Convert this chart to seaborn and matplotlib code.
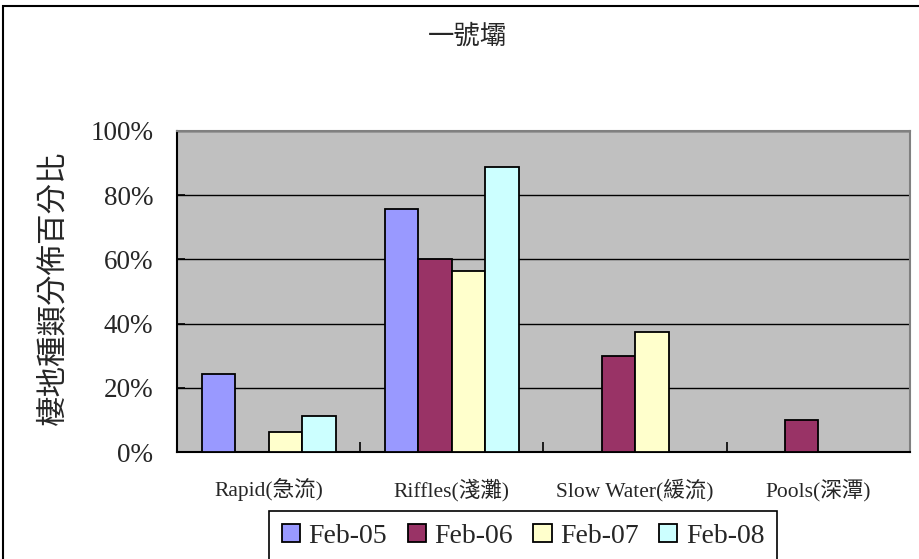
import matplotlib
matplotlib.use("Agg")
import matplotlib.pyplot as plt
import seaborn as sns
import pandas as pd
from matplotlib.patches import Rectangle, Patch
from matplotlib.ticker import FixedLocator, PercentFormatter

# Habitat categories and survey dates
categories = ["Rapid(急流)", "Riffles(淺灘)", "Slow Water(緩流)", "Pools(深潭)"]
dates = ["Feb-05", "Feb-06", "Feb-07", "Feb-08"]

# Percentage of each habitat type per survey
feb05 = [24.3, 75.7, 0.0, 0.0]
feb06 = [0.0, 60.0, 30.0, 10.0]
feb07 = [6.2, 56.3, 37.5, 0.0]
feb08 = [11.1, 88.9, 0.0, 0.0]

colors = ["#9999FF", "#993366", "#FFFFCC", "#CCFFFF"]
yticks = [0, 20, 40, 60, 80, 100]

series = [feb05, feb06, feb07, feb08]
df = pd.DataFrame(
    [(c, d, v) for d, vals in zip(dates, series) for c, v in zip(categories, vals)],
    columns=["habitat", "date", "pct"],
)

sns.set_theme(style="white")
plt.rcParams["font.family"] = ["Liberation Serif", "Noto Sans CJK TC"]

W, H = 920, 559
fig = plt.figure(figsize=(W / 100, H / 100), dpi=100)
ax = fig.add_axes([177 / W, 1 - 452 / H, (910 - 177) / W, (452 - 131) / H])
ax.set_facecolor("#C0C0C0")

sns.barplot(
    data=df, x="habitat", y="pct", hue="date", order=categories, hue_order=dates,
    palette=colors, width=0.73, gap=0, edgecolor="black", linewidth=1.3,
    saturation=1, ax=ax, legend=False, zorder=3,
)

# hide empty bars
for p in ax.patches:
    if p.get_height() == 0:
        p.set_visible(False)

ax.set_xlim(-0.5, len(categories) - 0.5)
ax.set_ylim(0, 100)
ax.yaxis.set_major_locator(FixedLocator(yticks))
ax.yaxis.set_major_formatter(PercentFormatter(decimals=0))
ax.grid(axis="y", color="black", linewidth=1.0, zorder=1)
ax.set_axisbelow(True)

ax.tick_params(axis="y", direction="in", length=6, width=1.2, color="black",
               labelsize=19.5, pad=17, left=True)
ax.tick_params(axis="x", which="major", length=0, labelsize=15.5, pad=19)
ax.xaxis.set_minor_locator(FixedLocator([i + 0.5 for i in range(len(categories) - 1)]))
ax.tick_params(axis="x", which="minor", direction="in", length=7, width=1.2,
               color="black", bottom=True)

for side in ["left", "bottom"]:
    ax.spines[side].set_color("black")
    ax.spines[side].set_linewidth(1.5)
for side in ["top", "right"]:
    ax.spines[side].set_color("#808080")
    ax.spines[side].set_linewidth(1.5)

ax.set_xlabel("")
ax.set_ylabel("")
fig.text(53 / W, 1 - 288 / H, "棲地種類分佈百分比", rotation=90, ha="center",
         va="center", fontsize=22, family=["Noto Sans CJK TC"])
fig.text(467 / W, 1 - 36 / H, "一號壩", ha="center", va="center", fontsize=19,
         family=["Noto Sans CJK TC"])

handles = [Patch(facecolor=c, edgecolor="black", linewidth=1.3) for c in colors]
leg = fig.legend(
    handles, dates, loc="upper center", bbox_to_anchor=(523 / W, 1 - 511 / H),
    ncol=4, fontsize=20, frameon=True, fancybox=False, framealpha=1,
    edgecolor="black", handlelength=0.65, handleheight=0.65, handletextpad=0.3,
    columnspacing=0.75, borderpad=0.45, borderaxespad=0,
)
leg.get_frame().set_linewidth(1.2)

# outer chart border
fig.patches.append(Rectangle((3 / W, -0.1), 1.2, 1 - 6 / H + 0.1,
                             transform=fig.transFigure, fill=False,
                             edgecolor="black", linewidth=1.5))

fig.savefig("out.png", dpi=100, facecolor="white")
